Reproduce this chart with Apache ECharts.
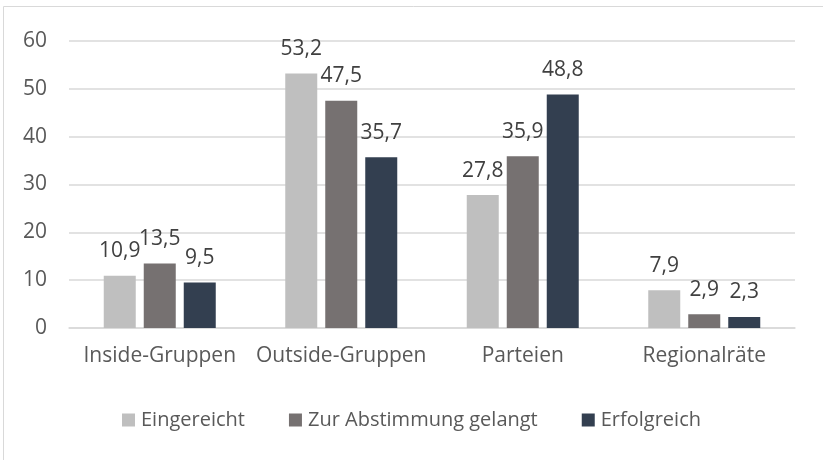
<!DOCTYPE html>
<html>
<head>
<meta charset="utf-8">
<script src="https://cdn.jsdelivr.net/npm/echarts@6/dist/echarts.min.js"></script>
<style>
  html, body { margin: 0; padding: 0; background: #fff; }
  #chart { width: 823px; height: 460px; }
</style>
</head>
<body>
<div id="chart"></div>
<script>
// Kategorien und Werte (Prozent)
const categories = ['Inside-Gruppen', 'Outside-Gruppen', 'Parteien', 'Regionalräte'];
const seriesNames = ['Eingereicht', 'Zur Abstimmung gelangt', 'Erfolgreich'];
const eingereicht = [10.9, 53.2, 27.8, 7.9];
const abstimmung = [13.5, 47.5, 35.9, 2.9];
const erfolgreich = [9.5, 35.7, 48.8, 2.3];
const colors = ['#bfbfbf', '#767171', '#333f50'];

const font = '"Open Sans", sans-serif';
const chart = echarts.init(document.getElementById('chart'));

const makeSeries = (name, data, color) => ({
    name: name,
    type: 'bar',
    data: data,
    barWidth: 32,
    barGap: '25%',
    itemStyle: { color: color },
    label: {
        show: true,
        position: 'top',
        distance: 14,
        color: '#404040',
        fontFamily: font,
        fontSize: 21,
        formatter: p => p.value.toFixed(1).replace('.', ',')
    }
});

chart.setOption({
    animation: false,
    graphic: [{
        type: 'rect',
        shape: { x: 3.5, y: 6.5, width: 900, height: 600 },
        style: { fill: 'none', stroke: '#d9d9d9', lineWidth: 1 },
        silent: true
    }],
    grid: { left: 69, right: 28, top: 41, bottom: 132 },
    legend: {
        bottom: 25,
        left: 'center',
        itemWidth: 13,
        itemHeight: 13,
        itemGap: 44,
        icon: 'rect',
        textStyle: { color: '#595959', fontFamily: font, fontSize: 20, padding: [0, 0, 0, 1] },
        data: seriesNames
    },
    xAxis: {
        type: 'category',
        data: categories,
        axisLine: { lineStyle: { color: '#d9d9d9', width: 1.5 } },
        axisTick: { show: false },
        axisLabel: { color: '#595959', fontFamily: font, fontSize: 21, margin: 18, interval: 0 }
    },
    yAxis: {
        type: 'value',
        min: 0,
        max: 60,
        interval: 10,
        axisLine: { show: false },
        axisTick: { show: false },
        splitLine: { lineStyle: { color: '#d9d9d9', width: 1.5 } },
        axisLabel: { color: '#595959', fontFamily: font, fontSize: 21, margin: 22 }
    },
    series: [
        makeSeries(seriesNames[0], eingereicht, colors[0]),
        makeSeries(seriesNames[1], abstimmung, colors[1]),
        makeSeries(seriesNames[2], erfolgreich, colors[2])
    ]
});
</script>
</body>
</html>
